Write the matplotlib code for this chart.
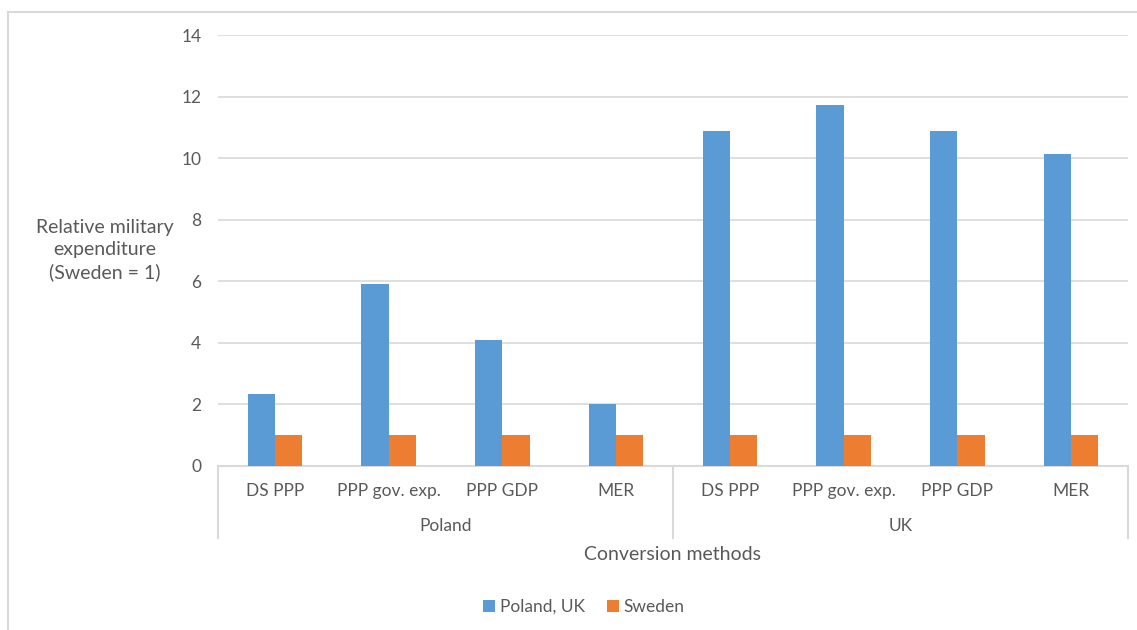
import matplotlib
matplotlib.use("Agg")
import matplotlib.pyplot as plt
import matplotlib.transforms as mtransforms
from matplotlib.patches import Patch
from matplotlib.lines import Line2D

# ---- data ----
groups = ["Poland", "UK"]
methods = ["DS PPP", "PPP gov. exp.", "PPP GDP", "MER"]
poland_uk = [2.34, 5.9, 4.08, 2.0, 10.88, 11.74, 10.88, 10.12]
sweden = [1, 1, 1, 1, 1, 1, 1, 1]
series_names = ["Poland, UK", "Sweden"]
y_ticks = [0, 2, 4, 6, 8, 10, 12, 14]

BLUE = "#5B9BD5"
ORANGE = "#ED7D31"
GRID = "#D9D9D9"
TXT = "#595959"

plt.rcParams["font.family"] = ["Lato", "DejaVu Sans"]

W, H = 1137, 630
fig = plt.figure(figsize=(W / 100, H / 100), dpi=100)

# outer chart border
fig.add_artist(Line2D([8 / W, 8 / W], [0, 1 - 12 / H], color=GRID, lw=1.5, transform=fig.transFigure))
fig.add_artist(Line2D([8 / W, 1], [1 - 12 / H, 1 - 12 / H], color=GRID, lw=1.5, transform=fig.transFigure))

left, right, top, bottom = 218, 1128, 35, 466
ax = fig.add_axes([left / W, 1 - bottom / H, (right - left) / W, (bottom - top) / H])

n = len(poland_uk)
xs = list(range(n))
bw = 0.24
ax.bar([x - bw / 2 for x in xs], poland_uk, width=bw, color=BLUE, zorder=3)
ax.bar([x + bw / 2 for x in xs], sweden, width=bw, color=ORANGE, zorder=3)

ax.set_xlim(-0.5, n - 0.5)
ax.set_ylim(0, 14)
ax.set_yticks(y_ticks)
ax.set_yticklabels([str(v) for v in y_ticks])
ax.tick_params(axis="y", length=0, pad=12, labelsize=12.5, labelcolor=TXT)
ax.set_xticks([])
for s in ["top", "right", "left"]:
    ax.spines[s].set_visible(False)
ax.spines["bottom"].set_color(GRID)
ax.spines["bottom"].set_linewidth(1.5)
ax.grid(axis="y", color=GRID, lw=1.2, zorder=0)
ax.set_axisbelow(True)

trans = mtransforms.blended_transform_factory(ax.transData, ax.transAxes)
ah = bottom - top
# method labels
for i in range(n):
    ax.text(xs[i], -(491 - bottom) / ah, methods[i % len(methods)], transform=trans,
            ha="center", va="center", fontsize=12.5, color=TXT)
# group labels
for g, name in enumerate(groups):
    cx = g * len(methods) + (len(methods) - 1) / 2
    ax.text(cx, -(526 - bottom) / ah, name, transform=trans,
            ha="center", va="center", fontsize=12.5, color=TXT)
# separators
for xsep in [-0.5, len(methods) - 0.5, n - 0.5]:
    ax.add_line(Line2D([xsep, xsep], [0, -(538 - bottom) / ah], transform=trans,
                       color=GRID, lw=1.5, clip_on=False))

ax.text(0.5, -(554 - bottom) / ah, "Conversion methods", transform=ax.transAxes,
        ha="center", va="center", fontsize=14, color=TXT)

fig.text(105 / W, 1 - 250 / H, "Relative military\nexpenditure\n(Sweden = 1)",
         ha="center", va="center", fontsize=14, color=TXT, linespacing=1.35)

handles = [Patch(facecolor=BLUE), Patch(facecolor=ORANGE)]
leg = fig.legend(handles, series_names, loc="center", bbox_to_anchor=(584 / W, 1 - 607 / H),
                 ncol=2, frameon=False, fontsize=12.5, handlelength=0.65, handleheight=0.65,
                 handletextpad=0.3, columnspacing=1.3)
for t in leg.get_texts():
    t.set_color(TXT)

fig.savefig("out.png", dpi=100)
